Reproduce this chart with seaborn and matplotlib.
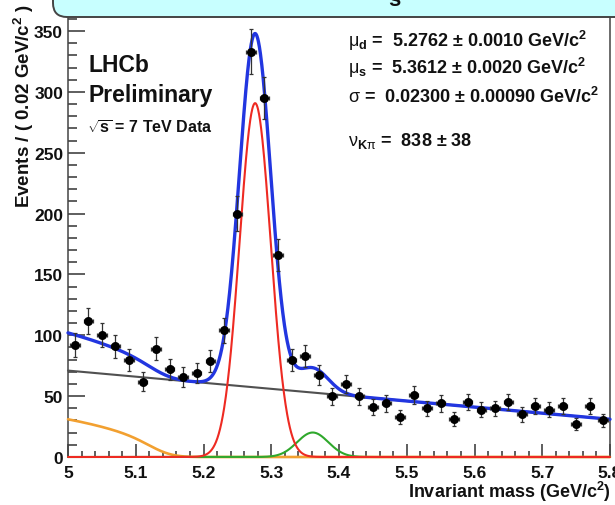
import numpy as np
import pandas as pd
import matplotlib
matplotlib.use("Agg")
import matplotlib.pyplot as plt
import seaborn as sns
from matplotlib.patches import FancyBboxPatch
from matplotlib.transforms import IdentityTransform
from matplotlib.ticker import FixedLocator, MultipleLocator

# ---- binned data: invariant mass, 0.02 GeV/c^2 bins ----
bin_centers = [5.01, 5.03, 5.05, 5.07, 5.09, 5.11, 5.13, 5.15, 5.17, 5.19,
               5.21, 5.23, 5.25, 5.27, 5.29, 5.31, 5.33, 5.35, 5.37, 5.39,
               5.41, 5.43, 5.45, 5.47, 5.49, 5.51, 5.53, 5.55, 5.57, 5.59,
               5.61, 5.63, 5.65, 5.67, 5.69, 5.71, 5.73, 5.75, 5.77, 5.79]
counts = [92, 112, 100, 91, 80, 62, 89, 72, 66, 69,
          79, 104, 200, 333, 295, 166, 80, 83, 67, 50,
          60, 50, 41, 44, 33, 51, 40, 44, 31, 45,
          39, 40, 45, 35, 42, 39, 42, 27, 42, 30]
bin_width = 0.02

# ---- fit results ----
mu_d = 5.2762          # B0 -> K pi peak
mu_s = 5.3612          # Bs peak
sigma = 0.02300        # common mass resolution
n_kpi = 838            # K pi signal yield
n_s = 58               # Bs yield
comb_lo, comb_hi = 71.0, 31.0          # linear combinatorial background at 5.0 / 5.8
argus_m0, argus_c = 5.135, 0.0         # partially reconstructed background
argus_height = 31.0

xticks = [5.0, 5.1, 5.2, 5.3, 5.4, 5.5, 5.6, 5.7, 5.8]
xtick_labels = ["5", "5.1", "5.2", "5.3", "5.4", "5.5", "5.6", "5.7", "5.8"]
yticks = [0, 50, 100, 150, 200, 250, 300, 350]

param_lines = [
    r"$\mathrm{\mu}_{d}$ =  5.2762 ± 0.0010 GeV/c$^{2}$",
    r"$\mathrm{\mu}_{s}$ =  5.3612 ± 0.0020 GeV/c$^{2}$",
    r"$\mathrm{\sigma}$ =  0.02300 ± 0.00090 GeV/c$^{2}$",
    r"$\mathrm{\nu}_{K\mathrm{\pi}}$ =  838 ± 38",
]

# ---- style ----
sns.set_theme(style="ticks")
plt.rcParams["font.family"] = ["Liberation Sans", "DejaVu Sans"]
plt.rcParams["mathtext.fontset"] = "custom"
plt.rcParams["mathtext.rm"] = "Liberation Sans"
plt.rcParams["mathtext.bf"] = "Liberation Sans:bold"
plt.rcParams["mathtext.it"] = "Liberation Sans:italic"
plt.rcParams["mathtext.sf"] = "Liberation Sans"
plt.rcParams["mathtext.default"] = "bf"

W, H = 615, 506
fig = plt.figure(figsize=(W / 100, H / 100), dpi=100)
ax_l, ax_r, ax_b, ax_t = 68, 610, 458, 17.4
ax = fig.add_axes([ax_l / W, 1 - ax_b / H, (ax_r - ax_l) / W, (ax_b - ax_t) / H])
ax.set_facecolor("white")

# ---- model components (events per bin) ----
m = np.linspace(5.0, 5.8, 1601)


def gauss(x, mu, n):
    amp = n * bin_width / (sigma * np.sqrt(2 * np.pi))
    return amp * np.exp(-0.5 * ((x - mu) / sigma) ** 2)


sig_d = gauss(m, mu_d, n_kpi)
sig_s = gauss(m, mu_s, n_s)
comb = comb_lo + (comb_hi - comb_lo) * (m - 5.0) / 0.8

# ARGUS shape smeared with the mass resolution
step = 0.0005
g = np.arange(4.6, 5.9 + step, step)
u = np.clip(1 - (g / argus_m0) ** 2, 0, None)
raw = np.where(g < argus_m0, g * np.sqrt(u) * np.exp(argus_c * u), 0.0)
k = np.arange(-250, 251) * step
kernel = np.exp(-0.5 * (k / sigma) ** 2)
smeared = np.convolve(raw, kernel / kernel.sum(), mode="same")
argus = np.interp(m, g, smeared)
argus = argus / np.interp(5.0, g, smeared) * argus_height

total = comb + argus + sig_d + sig_s

curves = pd.DataFrame({"m": m, "comb": comb, "argus": argus,
                       "sig_s": sig_s, "sig_d": sig_d, "total": total})

styles = [("comb", "#505050", 1.5, 3.0),
          ("argus", "#f2a030", 1.9, 3.1),
          ("sig_s", "#2fa82c", 1.5, 3.2),
          ("sig_d", "#ee2a22", 1.5, 3.3),
          ("total", "#2236e0", 2.4, 3.4)]
for col, color, lw, z in styles:
    sns.lineplot(data=curves, x="m", y=col, ax=ax, color=color, lw=lw,
                 estimator=None, sort=False, zorder=z, clip_on=False)

# ---- data points ----
data = pd.DataFrame({"m": bin_centers, "n": counts})
ax.errorbar(data["m"], data["n"], yerr=np.sqrt(data["n"]), xerr=0.007,
            fmt="none", ecolor="#333333", elinewidth=0.9, capsize=1.3,
            capthick=0.9, zorder=4)
sns.scatterplot(data=data, x="m", y="n", ax=ax, color="black", s=42,
                edgecolor="black", linewidth=0, zorder=5)

# ---- axes ----
ax.set_xlim(5.0, 5.8)
ax.set_ylim(0, 362)
ax.set_xlabel("")
ax.set_ylabel("")
ax.xaxis.set_major_locator(FixedLocator(xticks))
ax.set_xticklabels(xtick_labels)
ax.xaxis.set_minor_locator(MultipleLocator(0.02))
ax.yaxis.set_major_locator(FixedLocator(yticks))
ax.yaxis.set_minor_locator(MultipleLocator(10))
ax.tick_params(axis="both", which="both", direction="in", color="#333333",
               width=1.1, labelsize=12.5, labelcolor="#111111")
ax.tick_params(axis="x", which="major", length=9.4, pad=6)
ax.tick_params(axis="x", which="minor", length=4.3)
ax.tick_params(axis="y", which="major", length=12.2, pad=3.5)
ax.tick_params(axis="y", which="minor", length=6.5)
for lbl in ax.get_xticklabels() + ax.get_yticklabels():
    lbl.set_fontweight("bold")
for side in ["left", "bottom", "right"]:
    ax.spines[side].set_color("#444444")
    ax.spines[side].set_linewidth(1.1)
ax.spines["top"].set_visible(False)


def fx(xp):
    return xp / W


def fy(yp):
    return 1 - yp / H


fig.text(fx(24), fy(4), "Events / ( 0.02 GeV/c$^{2}$ )", rotation=90,
         ha="center", va="top", fontsize=13.5, fontweight="bold", color="#111111")
fig.text(fx(611), fy(498), "Invariant mass (GeV/c$^{2}$)", ha="right",
         va="baseline", fontsize=13, fontweight="bold", color="#111111")

fig.text(fx(89), fy(72), "LHCb", fontsize=16.5, fontweight="bold",
         va="baseline", color="#111111")
fig.text(fx(89), fy(102), "Preliminary", fontsize=16.5, fontweight="bold",
         va="baseline", color="#111111")
fig.text(fx(87), fy(134), r"$\sqrt{s}$ = 7 TeV Data", fontsize=11.5,
         fontweight="bold", va="baseline", color="#111111")

for text, yb in zip(param_lines, [47, 74, 103, 146]):
    fig.text(fx(348), fy(yb), text, fontsize=13, fontweight="bold",
             va="baseline", color="#111111")

# ---- title banner at the top ----
banner = FancyBboxPatch((53, H - 18), 700, 120,
                        boxstyle="round,pad=0,rounding_size=14",
                        fc="#c8ffff", ec="#444444", lw=1.4,
                        transform=IdentityTransform(), zorder=10)
fig.add_artist(banner)
fig.text(fx(394), fy(6.5), "s", fontsize=16, fontweight="bold", ha="center",
         va="baseline", color="#111111", zorder=11)

fig.savefig("out.png", dpi=100)
